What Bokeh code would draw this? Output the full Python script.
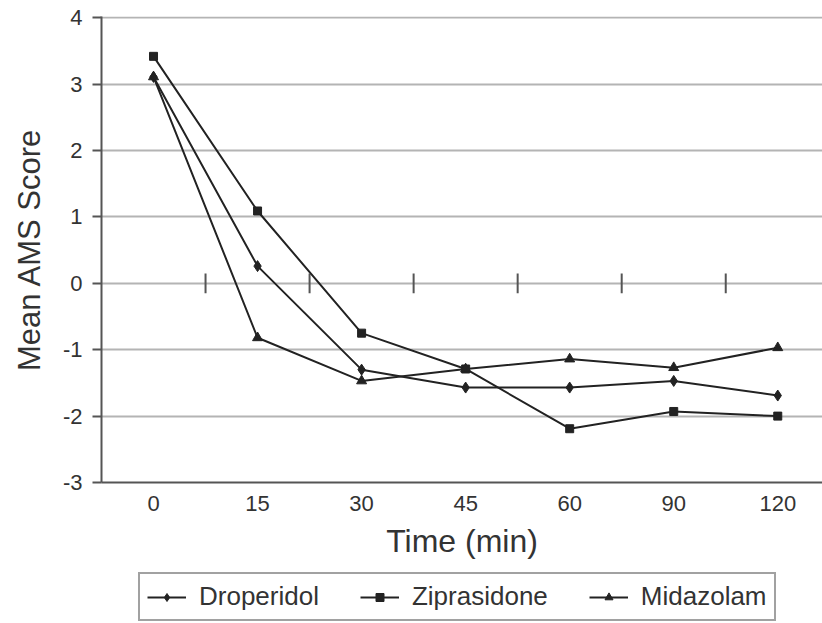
from bokeh.plotting import figure
from bokeh.layouts import column
from bokeh.models import Range1d, FixedTicker, Legend, LegendItem
from bokeh.embed import file_html
from bokeh.resources import INLINE

times = ["0", "15", "30", "45", "60", "90", "120"]
droperidol = [3.11, 0.26, -1.30, -1.57, -1.57, -1.47, -1.69]
ziprasidone = [3.42, 1.09, -0.75, -1.29, -2.19, -1.93, -2.00]
midazolam = [3.11, -0.82, -1.47, -1.29, -1.14, -1.27, -0.97]
y_ticks = [-3, -2, -1, 0, 1, 2, 3, 4]
series_names = ["Droperidol", "Ziprasidone", "Midazolam"]
markers = ["diamond", "square", "triangle"]
marker_sizes = [11, 8, 10]

FONT = "Liberation Sans"
DARK = "#222222"
AXIS = "#555555"
GRID = "#b4b4b4"
TEXT = "#333333"

xs = list(range(len(times)))

p = figure(width=822, height=570, output_backend="svg", toolbar_location=None,
           x_range=Range1d(-0.5, 6.43), y_range=Range1d(-3, 4.02),
           min_border_left=101, min_border_right=0, min_border_top=16,
           min_border_bottom=88)
p.outline_line_color = None
p.background_fill_color = "white"
p.border_fill_color = "white"

p.xgrid.grid_line_color = None
p.ygrid.grid_line_color = GRID
p.ygrid.grid_line_width = 2
p.ygrid.ticker = FixedTicker(ticks=y_ticks)

# y axis
p.yaxis.ticker = FixedTicker(ticks=y_ticks)
p.yaxis.major_label_overrides = {t: str(t) for t in y_ticks}
p.yaxis.axis_line_color = AXIS
p.yaxis.axis_line_width = 2
p.yaxis.major_tick_line_color = AXIS
p.yaxis.major_tick_line_width = 2
p.yaxis.major_tick_out = 9
p.yaxis.major_tick_in = 0
p.yaxis.minor_tick_line_color = None
p.yaxis.major_label_text_font = FONT
p.yaxis.major_label_text_font_size = "22px"
p.yaxis.major_label_text_color = TEXT
p.yaxis.major_label_standoff = 10
p.yaxis.axis_label = "Mean AMS Score"
p.yaxis.axis_label_text_font = FONT
p.yaxis.axis_label_text_font_size = "31px"
p.yaxis.axis_label_text_font_style = "normal"
p.yaxis.axis_label_text_color = TEXT
p.yaxis.axis_label_standoff = 13

# x axis (categorical positions)
p.xaxis.ticker = FixedTicker(ticks=xs)
p.xaxis.major_label_overrides = {i: t for i, t in enumerate(times)}
p.xaxis.axis_line_color = AXIS
p.xaxis.axis_line_width = 2
p.xaxis.major_tick_line_color = None
p.xaxis.minor_tick_line_color = None
p.xaxis.major_label_text_font = FONT
p.xaxis.major_label_text_font_size = "22px"
p.xaxis.major_label_text_color = TEXT
p.xaxis.major_label_standoff = 7
p.xaxis.axis_label = "Time (min)"
p.xaxis.axis_label_text_font = FONT
p.xaxis.axis_label_text_font_size = "32px"
p.xaxis.axis_label_text_font_style = "normal"
p.xaxis.axis_label_text_color = TEXT
p.xaxis.axis_label_standoff = 9

# category-separator tick marks where the category axis crosses y = 0
seps = [i + 0.5 for i in range(len(times) - 1)]
p.segment(x0=seps, x1=seps, y0=[-0.15] * len(seps), y1=[0.15] * len(seps),
          line_color=AXIS, line_width=2)

for vals, mk, ms in zip([droperidol, ziprasidone, midazolam], markers, marker_sizes):
    p.line(xs, vals, line_color=DARK, line_width=2)
    p.scatter(xs, vals, marker=mk, size=ms, color=DARK)

# legend strip below the chart
lg = figure(width=822, height=53, output_backend="svg", toolbar_location=None,
            x_range=Range1d(0, 1), y_range=Range1d(0, 1),
            min_border_left=0, min_border_right=0, min_border_top=0,
            min_border_bottom=0)
lg.axis.visible = False
lg.grid.visible = False
lg.outline_line_color = None
lg.background_fill_color = "white"
lg.border_fill_color = "white"

nan = float("nan")
items = []
for name, mk, ms in zip(series_names, markers, marker_sizes):
    rl = lg.line(x=[nan], y=[nan], line_color=DARK, line_width=2)
    rm = lg.scatter(x=[nan], y=[nan], marker=mk, size=ms - 2, color=DARK)
    items.append(LegendItem(label=name, renderers=[rl, rm]))

legend = Legend(items=items, orientation="horizontal", location=(37, 2))
legend.label_text_font = FONT
legend.label_text_font_size = "26px"
legend.label_text_color = TEXT
legend.glyph_width = 39
legend.glyph_height = 20
legend.label_standoff = 13
legend.spacing = 41
legend.padding = 7
legend.margin = 0
legend.border_line_color = "#444444"
legend.border_line_width = 2
legend.background_fill_color = "white"
lg.add_layout(legend, "center")

layout = column(p, lg, spacing=0)
open("out.html", "w").write(file_html(layout, INLINE))
